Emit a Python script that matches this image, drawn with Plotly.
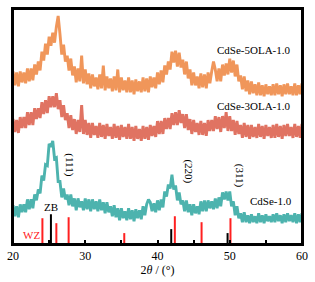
import plotly.graph_objects as go

# 2theta grid: 20 to 60 in 0.25 deg steps (161 points)
two_theta = [20 + 0.25 * i for i in range(161)]

cdse_5ola = [
    174, 160, 173, 159, 174, 163, 173, 162,
    177, 164, 177, 165, 181, 171, 184, 175,
    194, 185, 202, 191, 209, 200, 213, 203,
    219, 230, 212, 191, 201, 184, 190, 175,
    187, 170, 179, 163, 177, 164, 190, 162,
    176, 161, 172, 157, 171, 159, 168, 156,
    171, 157, 180, 155, 169, 157, 167, 154,
    169, 155, 176, 153, 168, 155, 165, 153,
    168, 153, 165, 151, 166, 154, 164, 153,
    168, 154, 167, 153, 169, 158, 168, 157,
    173, 161, 175, 163, 180, 171, 184, 176,
    194, 183, 195, 179, 193, 178, 186, 171,
    184, 167, 176, 160, 173, 160, 169, 157,
    172, 158, 171, 157, 173, 162, 174, 184,
    176, 164, 177, 164, 181, 170, 182, 171,
    187, 173, 185, 169, 181, 164, 170, 156,
    169, 154, 165, 151, 164, 152, 161, 150,
    163, 150, 160, 149, 161, 151, 159, 150,
    161, 150, 162, 151, 160, 149, 161, 151,
    162, 151, 159, 150, 162, 150, 160, 151,
    162,
]

cdse_3ola = [
    126, 113, 125, 112, 128, 117, 128, 117,
    133, 120, 133, 120, 137, 126, 137, 127,
    143, 131, 145, 132, 149, 138, 149, 138,
    152, 136, 145, 128, 140, 125, 132, 117,
    130, 115, 126, 111, 125, 113, 140, 111,
    125, 110, 122, 107, 122, 110, 119, 107,
    122, 108, 120, 106, 121, 109, 118, 106,
    121, 107, 119, 105, 120, 108, 118, 106,
    121, 106, 118, 104, 119, 106, 116, 104,
    119, 106, 118, 105, 120, 109, 119, 108,
    124, 111, 124, 111, 127, 116, 127, 116,
    132, 120, 133, 120, 135, 122, 131, 117,
    131, 115, 126, 111, 125, 113, 122, 110,
    124, 110, 122, 109, 125, 114, 125, 114,
    129, 116, 128, 113, 129, 117, 133, 114,
    129, 114, 125, 110, 124, 111, 120, 107,
    122, 108, 120, 106, 120, 108, 118, 107,
    121, 108, 119, 106, 120, 109, 118, 107,
    120, 107, 121, 108, 119, 106, 120, 109,
    121, 109, 118, 107, 121, 108, 119, 107,
    121,
]

cdse_10 = [
    39, 28, 38, 27, 40, 32, 40, 32,
    45, 35, 45, 36, 50, 44, 55, 51,
    69, 64, 80, 79, 101, 98, 104, 86,
    87, 63, 63, 47, 56, 45, 50, 39,
    50, 38, 46, 34, 46, 37, 43, 34,
    46, 35, 45, 33, 45, 35, 43, 33,
    45, 34, 42, 31, 42, 32, 38, 28,
    39, 27, 36, 24, 36, 26, 33, 24,
    36, 25, 34, 23, 35, 26, 34, 25,
    38, 29, 40, 45, 42, 33, 41, 32,
    44, 34, 45, 37, 53, 48, 60, 56,
    70, 55, 59, 44, 52, 40, 44, 33,
    44, 32, 40, 29, 40, 31, 38, 30,
    43, 33, 44, 33, 44, 36, 43, 35,
    46, 36, 47, 38, 52, 45, 53, 44,
    53, 38, 43, 29, 38, 26, 31, 22,
    32, 22, 29, 21, 30, 22, 28, 21,
    31, 22, 29, 21, 30, 23, 28, 22,
    30, 22, 31, 23, 29, 21, 30, 22,
    31, 23, 29, 22, 31, 21, 30, 22,
    31,
]

# Reference patterns (stick positions and heights)
wz_pos = [24.07, 26.0, 27.7, 35.4, 42.4, 46.1, 50.1]
wz_int = [26, 21, 27, 11, 28, 22, 26]
zb_pos = [25.25, 41.9, 49.7]
zb_int = [30, 15, 11]

tick_vals = [20, 25, 30, 35, 40, 45, 50, 55, 60]
tick_text = ["20", "", "30", "", "40", "", "50", "", "60"]

series_names = ["CdSe-5OLA-1.0", "CdSe-3OLA-1.0", "CdSe-1.0"]
colors = ["#F0965A", "#E07362", "#4DB3AE"]

FONT = "Liberation Serif, Times New Roman, serif"

fig = go.Figure()
for ys, c, n in zip([cdse_5ola, cdse_3ola, cdse_10], colors, series_names):
    fig.add_trace(go.Scatter(x=two_theta, y=ys, mode="lines", name=n,
                             line=dict(color=c, width=2.9), showlegend=False))


def sticks(pos, inten):
    xs, ys = [], []
    for p, h in zip(pos, inten):
        xs += [p, p, None]
        ys += [0, h, None]
    return xs, ys


sx, sy = sticks(wz_pos, wz_int)
fig.add_trace(go.Scatter(x=sx, y=sy, mode="lines", line=dict(color="#FF2020", width=2),
                         showlegend=False))
sx, sy = sticks(zb_pos, zb_int)
fig.add_trace(go.Scatter(x=sx, y=sy, mode="lines", line=dict(color="black", width=2),
                         showlegend=False))

annos = [
    dict(x=53.4, y=196, text="CdSe-5OLA-1.0", size=11, color="black", angle=0),
    dict(x=53.4, y=139, text="CdSe-3OLA-1.0", size=11, color="black", angle=0),
    dict(x=55.75, y=43, text="CdSe-1.0", size=11, color="black", angle=0),
    dict(x=27.8, y=80, text="(111)", size=11, color="black", angle=90),
    dict(x=44.25, y=73, text="(220)", size=11, color="black", angle=90),
    dict(x=51.4, y=69, text="(311)", size=11, color="black", angle=90),
    dict(x=25.3, y=37, text="ZB", size=11, color="black", angle=0),
    dict(x=22.6, y=9, text="WZ", size=11, color="#FF2020", angle=0),
]
for a in annos:
    fig.add_annotation(x=a["x"], y=a["y"], text=a["text"], showarrow=False,
                       textangle=a["angle"], xanchor="center", yanchor="middle",
                       font=dict(family=FONT, size=a["size"], color=a["color"]))

# frame of the plotting area
fig.add_shape(type="rect", xref="paper", yref="paper", x0=0, y0=0, x1=1, y1=1,
              line=dict(color="#000000", width=2), layer="above")

fig.update_layout(
    width=315, height=282,
    margin=dict(l=11, r=12, t=7, b=38),
    paper_bgcolor="white", plot_bgcolor="white",
    font=dict(family=FONT, size=12, color="black"),
    xaxis=dict(range=[20, 60], tickvals=tick_vals, ticktext=tick_text, ticks="inside",
               ticklen=4, tickwidth=1.5, tickcolor="#000000",
               showline=True, linecolor="#000000", linewidth=2, mirror=True,
               showgrid=False, zeroline=False,
               tickfont=dict(family=FONT, size=12),
               title=dict(text="2<i>θ</i> / (°)", font=dict(family=FONT, size=12), standoff=1)),
    yaxis=dict(range=[0, 237], showticklabels=False, ticks="",
               showline=True, linecolor="#000000", linewidth=2, mirror=True,
               showgrid=False, zeroline=False),
)

fig.write_html("out.html", config={"displayModeBar": False},
               post_script="document.body.style.margin='0px';")
